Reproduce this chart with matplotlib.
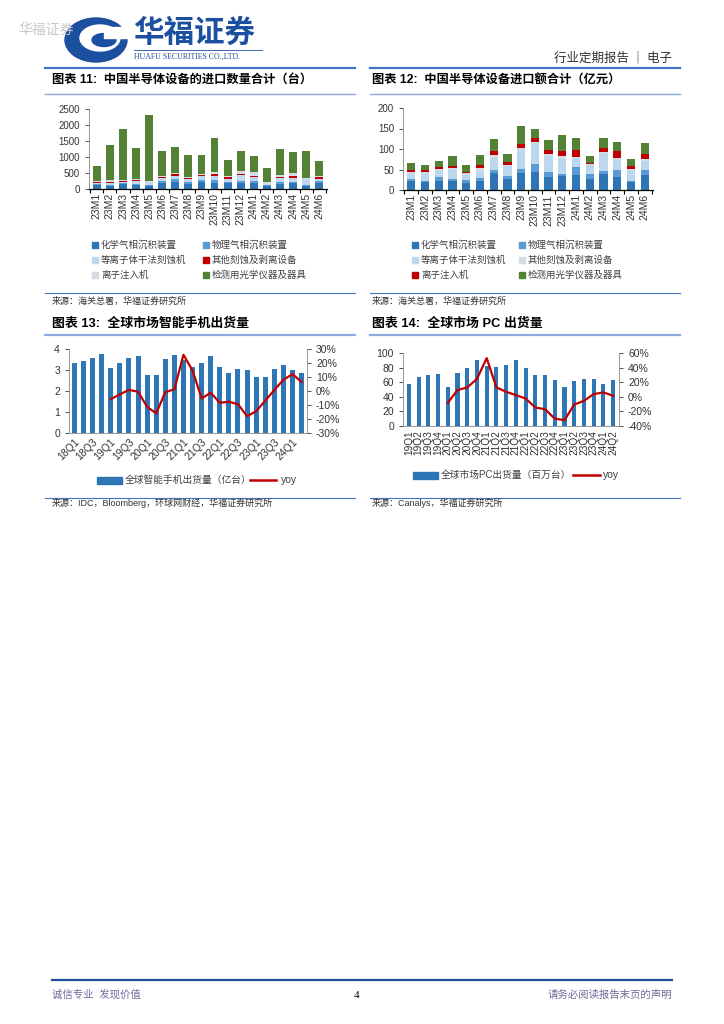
import matplotlib
matplotlib.use('Agg')
import matplotlib.pyplot as plt
from matplotlib.patches import Rectangle, Ellipse
import numpy as np

plt.rcParams['font.family'] = ['Liberation Sans', 'Noto Sans CJK SC', 'DejaVu Sans']

# ---- data: 图表11 / 图表12 ----
months = ['23M1', '23M2', '23M3', '23M4', '23M5', '23M6', '23M7', '23M8', '23M9',
          '23M10', '23M11', '23M12', '24M1', '24M2', '24M3', '24M4', '24M5', '24M6']
series_names = ['化学气相沉积装置', '物理气相沉积装置', '等离子体干法刻蚀机',
                '其他刻蚀及剥离设备', '离子注入机', '检测用光学仪器及器具']

# 进口数量（台）
qty_cvd = [110, 90, 150, 130, 90, 190, 230, 170, 220, 190, 180, 200, 180, 90, 170, 190, 100, 190]
qty_pvd = [40, 40, 30, 40, 40, 60, 70, 50, 50, 80, 40, 40, 80, 30, 50, 40, 30, 50]
qty_etch = [50, 70, 50, 80, 50, 80, 110, 80, 140, 130, 100, 210, 110, 30, 120, 100, 170, 80]
qty_other = [30, 30, 30, 30, 20, 40, 60, 30, 40, 60, 40, 30, 30, 20, 40, 80, 20, 40]
qty_ion = [30, 40, 30, 40, 40, 50, 30, 40, 30, 70, 50, 70, 120, 40, 60, 80, 20, 60]
qty_inspect = [460, 1110, 1590, 960, 2070, 770, 820, 680, 570, 1060, 490, 630, 510, 450, 810, 660, 840, 440]

# 进口额（亿元）
amt_cvd = [22, 20, 23, 22, 18, 22, 41, 26, 41, 45, 32, 33, 37, 27, 38, 31, 19, 37]
amt_pvd = [5, 3, 8, 5, 6, 8, 8, 7, 10, 18, 13, 7, 18, 12, 8, 17, 4, 11]
amt_etch = [15, 18, 17, 24, 15, 20, 28, 25, 48, 52, 38, 36, 24, 21, 44, 28, 25, 23]
amt_other = [3, 3, 3, 3, 2, 3, 8, 3, 3, 3, 5, 8, 2, 3, 3, 3, 3, 4]
amt_ion = [3, 6, 4, 5, 4, 8, 10, 7, 10, 8, 9, 12, 16, 4, 10, 15, 8, 13]
amt_inspect = [17, 10, 16, 24, 15, 24, 30, 20, 45, 24, 25, 39, 30, 16, 24, 22, 17, 26]

# ---- data: 图表13 ----
phone_q = ['18Q1', '18Q2', '18Q3', '18Q4', '19Q1', '19Q2', '19Q3', '19Q4', '20Q1', '20Q2',
           '20Q3', '20Q4', '21Q1', '21Q2', '21Q3', '21Q4', '22Q1', '22Q2', '22Q3', '22Q4',
           '23Q1', '23Q2', '23Q3', '23Q4', '24Q1', '24Q2']
phone_ship = [3.34, 3.42, 3.55, 3.75, 3.11, 3.33, 3.58, 3.69, 2.76, 2.78, 3.53, 3.73, 3.46,
              3.13, 3.31, 3.66, 3.13, 2.85, 3.03, 3.00, 2.69, 2.68, 3.03, 3.24, 2.99, 2.85]
phone_yoy = [None, None, None, None, -5.8, -2.4, 0.8, -0.5, -11.3, -16.0, -0.8, 1.2, 25.9,
             14.6, -5.3, -1.2, -8.4, -7.7, -9.4, -18.0, -14.4, -7.0, 0.7, 8.0, 12.0, 6.5]

# ---- data: 图表14 ----
pc_q = ['19Q1', '19Q2', '19Q3', '19Q4', '20Q1', '20Q2', '20Q3', '20Q4', '21Q1', '21Q2', '21Q3',
        '21Q4', '22Q1', '22Q2', '22Q3', '22Q4', '23Q1', '23Q2', '23Q3', '23Q4', '24Q1', '24Q2']
pc_ship = [58, 66.5, 70, 71.5, 53, 72.5, 79.5, 90.5, 82.5, 81.5, 84, 91, 79.5, 70, 70, 63,
           53.5, 62, 64.5, 64.5, 57.5, 62.5]
pc_yoy = [None, None, None, None, -8.3, 9.2, 12.9, 24.4, 53.0, 12.9, 6.9, 2.3, -2.3, -14.7,
          -17.0, -30.0, -32.0, -10.6, -5.5, 3.7, 6.0, 1.4]

colors = ['#2E75B6', '#5B9BD5', '#BDD7EE', '#C00000', '#D6DCE4', '#548235']
colors12 = ['#2E75B6', '#5B9BD5', '#BDD7EE', '#D6DCE4', '#C00000', '#548235']
BLUE = '#2E75B6'
RED = '#C00000'
TXT = '#333333'

W, H = 724, 1024
fig = plt.figure(figsize=(W / 100, H / 100), dpi=100)

bg = fig.add_axes([0, 0, 1, 1])
bg.set_xlim(0, W)
bg.set_ylim(H, 0)
bg.axis('off')


def box(x0, y0, x1, y1):
    return fig.add_axes([x0 / W, 1 - y1 / H, (x1 - x0) / W, (y1 - y0) / H])


# header
bg.text(18, 30, '华福证券', fontsize=10, color='#C8C8C8', va='center')
bg.add_patch(Ellipse((96, 40), 62, 44, color='#1B4F9F'))
bg.add_patch(Ellipse((100, 38), 40, 26, color='white'))
bg.add_patch(Ellipse((104, 40), 24, 13, color='#1B4F9F'))
bg.add_patch(Rectangle((104, 27), 30, 11, color='white'))
bg.text(133, 34, '华福证券', fontsize=22, fontweight='bold', color='#1B4F9F', va='center')
bg.plot([134, 262], [50, 50], color='#1B4F9F', lw=0.6)
bg.text(134, 56.5, 'HUAFU SECURITIES CO.,LTD.', fontsize=5.6, color='#1B4F9F', va='center',
        family='Liberation Serif')
bg.text(672, 58, '行业定期报告 ｜ 电子', fontsize=9, color=TXT, ha='right', va='center',
        family=['Noto Sans CJK SC'])

# section frames
for x0, x1 in [(45, 355), (370, 680)]:
    bg.plot([x0, x1], [68, 68], color='#4472C4', lw=1.6)
    bg.plot([x0, x1], [93.5, 93.5], color='#8EA9DB', lw=1.0)
    bg.plot([x0, x1], [293, 293], color='#4472C4', lw=0.8)
    bg.plot([x0, x1], [335, 335], color='#8EA9DB', lw=1.6)
    bg.plot([x0, x1], [498, 498], color='#4472C4', lw=0.8)

bg.text(52, 80, '图表 11:  中国半导体设备的进口数量合计（台）', fontsize=8.8, fontweight='bold',
        va='center', color='black')
bg.text(372, 80, '图表 12:  中国半导体设备进口额合计（亿元）', fontsize=8.8, fontweight='bold',
        va='center', color='black')
bg.text(52, 324, '图表 13:  全球市场智能手机出货量', fontsize=9.3, fontweight='bold',
        va='center', color='black')
bg.text(372, 324, '图表 14:  全球市场 PC 出货量', fontsize=9.3, fontweight='bold',
        va='center', color='black')

bg.text(52, 301, '来源：海关总署，华福证券研究所', fontsize=6.5, va='center', color=TXT)
bg.text(372, 301, '来源：海关总署，华福证券研究所', fontsize=6.5, va='center', color=TXT)
bg.text(52, 503, '来源：IDC，Bloomberg，环球网财经，华福证券研究所', fontsize=6.5, va='center',
        color=TXT)
bg.text(372, 503, '来源：Canalys，华福证券研究所', fontsize=6.5, va='center', color=TXT)

# footer
bg.plot([52, 672], [980, 980], color='#1F4E9C', lw=1.6)
bg.text(52, 995, '诚信专业  发现价值', fontsize=7.5, color='#6B6B9B', va='center')
bg.text(357, 995, '4', fontsize=8, color='black', va='center', ha='center',
        family='Liberation Serif')
bg.text(672, 995, '请务必阅读报告末页的声明', fontsize=7.5, color='#6B6B9B', va='center',
        ha='right')


def stacked(ax, data, cols, ymax, step):
    x = np.arange(len(months))
    bottom = np.zeros(len(months))
    for vals, c in zip(data, cols):
        ax.bar(x, vals, 0.6, bottom=bottom, color=c, edgecolor='none')
        bottom += np.array(vals)
    ax.set_xlim(-0.6, len(months) - 0.4)
    ax.set_ylim(0, ymax)
    ax.set_yticks(np.arange(0, ymax + 1, step))
    ax.set_xticks(x)
    ax.set_xticklabels(months, rotation=90, fontsize=7.5, color=TXT)
    ax.set_xticks(np.arange(-0.5, len(months), 1), minor=True)
    ax.tick_params(axis='x', which='major', length=0, pad=3)
    ax.tick_params(axis='x', which='minor', length=3, width=0.8)
    ax.tick_params(axis='y', labelsize=7, colors=TXT, length=3, width=0.6)
    for s in ['top', 'right']:
        ax.spines[s].set_visible(False)
    ax.spines['left'].set_color('#888888')
    ax.spines['left'].set_linewidth(0.6)
    ax.spines['bottom'].set_linewidth(0.9)


def legend6(x_cols, y_rows, names, cols):
    k = 0
    for r in range(3):
        for c in range(2):
            bg.add_patch(Rectangle((x_cols[c], y_rows[r] - 3), 6, 6, color=cols[k]))
            bg.text(x_cols[c] + 9, y_rows[r], names[k], fontsize=6.8, color='#404040',
                    va='center')
            k += 1


ax11 = box(89, 109, 327, 189)
stacked(ax11, [qty_cvd, qty_pvd, qty_etch, qty_other, qty_ion, qty_inspect], colors, 2500, 500)
legend6([92, 203], [245, 260, 275], series_names, colors)

ax12 = box(403, 108, 653, 190)
stacked(ax12, [amt_cvd, amt_pvd, amt_etch, amt_other, amt_ion, amt_inspect], colors12, 200, 50)
names12 = ['化学气相沉积装置', '物理气相沉积装置', '等离子体干法刻蚀机',
           '其他刻蚀及剥离设备', '离子注入机', '检测用光学仪器及器具']
legend6([412, 519], [245, 260, 275], names12, colors12)


def combo(ax, cats, ship, yoy, width, ylim, yticks, rlim, rticks, rot, every):
    x = np.arange(len(cats))
    ax.bar(x, ship, width, color=BLUE, edgecolor='none')
    ax.set_xlim(-0.6, len(cats) - 0.4)
    ax.set_ylim(*ylim)
    ax.set_yticks(yticks)
    ax.set_xticks(x[::every])
    if rot == 90:
        ax.set_xticklabels(cats[::every], rotation=90, fontsize=7.3, color=TXT)
    else:
        ax.set_xticklabels(cats[::every], rotation=45, ha='right', rotation_mode='anchor',
                           fontsize=7.5, color=TXT)
    ax.tick_params(axis='x', length=0, pad=3)
    ax.tick_params(axis='y', labelsize=7.5, colors=TXT, length=3, width=0.6)
    ax.spines['top'].set_visible(False)
    ax.spines['right'].set_visible(False)
    for s in ['left', 'bottom']:
        ax.spines[s].set_color('#888888')
        ax.spines[s].set_linewidth(0.6)
    ax2 = ax.twinx()
    xs = [i for i, v in enumerate(yoy) if v is not None]
    ys = [v for v in yoy if v is not None]
    ax2.plot(xs, ys, color=RED, lw=1.6)
    ax2.set_ylim(*rlim)
    ax2.set_yticks(rticks)
    ax2.set_yticklabels([f'{t}%' for t in rticks])
    ax2.tick_params(axis='y', labelsize=7.5, colors=TXT, length=3, width=0.6)
    ax2.spines['top'].set_visible(False)
    ax2.spines['left'].set_visible(False)
    ax2.spines['bottom'].set_visible(False)
    ax2.spines['right'].set_color('#888888')
    ax2.spines['right'].set_linewidth(0.6)


ax13 = box(69, 349, 307, 433)
combo(ax13, phone_q, phone_ship, phone_yoy, 0.55, (0, 4), [0, 1, 2, 3, 4],
      (-30, 30), [-30, -20, -10, 0, 10, 20, 30], 45, 2)
bg.add_patch(Rectangle((97, 477), 25, 7, color=BLUE))
bg.text(125, 480, '全球智能手机出货量（亿台）', fontsize=7, color='#404040', va='center')
bg.plot([250, 276], [480, 480], color=RED, lw=1.8)
bg.text(281, 480, 'yoy', fontsize=7.5, color='#404040', va='center')

ax14 = box(403, 353, 619, 426)
combo(ax14, pc_q, pc_ship, pc_yoy, 0.42, (0, 100), [0, 20, 40, 60, 80, 100],
      (-40, 60), [-40, -20, 0, 20, 40, 60], 90, 1)
bg.add_patch(Rectangle((413, 472), 25, 7, color=BLUE))
bg.text(441, 475, '全球市场PC出货量（百万台）', fontsize=7, color='#404040', va='center')
bg.plot([573, 600], [475, 475], color=RED, lw=1.8)
bg.text(603, 475, 'yoy', fontsize=7.5, color='#404040', va='center')

fig.savefig('out.png', dpi=100)
